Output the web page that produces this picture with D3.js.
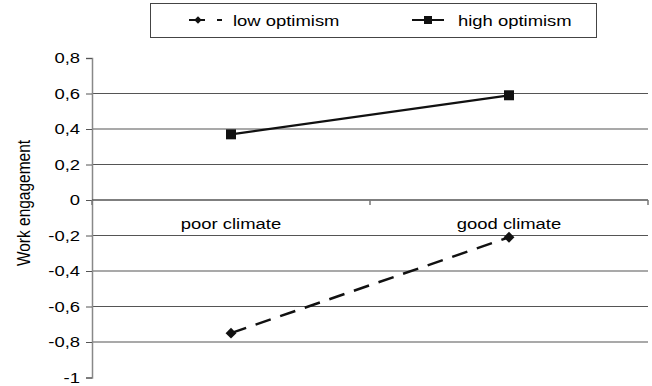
<!DOCTYPE html>
<html>
<head>
<meta charset="utf-8">
<script src="https://cdn.jsdelivr.net/npm/d3@7"></script>
<style>
  body { margin: 0; background: #fff; }
  svg { display: block; font-family: "Liberation Sans", Arial, sans-serif; }
</style>
</head>
<body>
<div id="chart"></div>
<script>
// data
const categories = ["poor climate", "good climate"];
const lowOptimism = [-0.75, -0.21];
const highOptimism = [0.37, 0.59];
const yTicks = [0.8, 0.6, 0.4, 0.2, 0, -0.2, -0.4, -0.6, -0.8, -1];
const seriesNames = ["low optimism", "high optimism"];

const width = 652, height = 386;
const margin = {top: 58, right: 4, bottom: 8.5, left: 92};
const fs = 15.5, sx = 1.19; // reference text is stretched sideways

const svg = d3.select("#chart").append("svg")
  .attr("width", width).attr("height", height);

const x = d3.scaleBand().domain(categories).range([margin.left, width - margin.right]);
const y = d3.scaleLinear().domain([-1, 0.8]).range([height - margin.bottom, margin.top]);
const cx = c => x(c) + x.bandwidth() / 2;

// gridlines (skip top, zero and bottom)
svg.append("g").selectAll("line")
  .data(yTicks.filter(d => d !== 0 && d !== 0.8 && d !== -1))
  .join("line")
    .attr("x1", margin.left).attr("x2", width - margin.right)
    .attr("y1", d => y(d)).attr("y2", d => y(d))
    .attr("stroke", "#555").attr("stroke-width", 1.2);

// y axis
const yAxis = svg.append("g")
  .attr("transform", `translate(${margin.left},0)`)
  .call(d3.axisLeft(y).tickValues(yTicks).tickSize(6).tickFormat(""));
yAxis.select(".domain").attr("stroke", "#888").attr("stroke-width", 1.5);
yAxis.selectAll(".tick line").attr("stroke", "#555");

svg.append("g").selectAll("text").data(yTicks).join("text")
  .attr("transform", d => `translate(80,${y(d)}) scale(${sx},1)`)
  .attr("dy", "0.33em")
  .attr("text-anchor", "end")
  .style("font-size", fs + "px")
  .text(d => String(d).replace(".", ","));

// x axis on zero with ticks at band edges
const x0 = y(0);
svg.append("line")
  .attr("x1", margin.left).attr("x2", width - margin.right)
  .attr("y1", x0).attr("y2", x0)
  .attr("stroke", "#555").attr("stroke-width", 1.5);
const edges = [margin.left, ...categories.map(c => x(c) + x.bandwidth())];
svg.append("g").selectAll("line").data(edges).join("line")
  .attr("x1", d => d).attr("x2", d => d)
  .attr("y1", x0).attr("y2", x0 + 5)
  .attr("stroke", "#777").attr("stroke-width", 1.5);
svg.append("g").selectAll("text").data(categories).join("text")
  .attr("transform", d => `translate(${cx(d)},${x0 + 29}) scale(${sx},1)`)
  .attr("text-anchor", "middle")
  .style("font-size", fs + "px")
  .text(d => d);

// axis title
svg.append("text")
  .attr("transform", `translate(30,${y(0) + 3}) scale(${sx},1) rotate(-90)`)
  .attr("text-anchor", "middle")
  .style("font-size", fs + "px")
  .text("Work engagement");

const line = d3.line().x((d, i) => cx(categories[i])).y(d => y(d));

// high optimism
svg.append("path").datum(highOptimism)
  .attr("d", line).attr("fill", "none")
  .attr("stroke", "#111").attr("stroke-width", 2.3);
svg.append("g").selectAll("rect").data(highOptimism).join("rect")
  .attr("x", (d, i) => cx(categories[i]) - 5)
  .attr("y", d => y(d) - 5)
  .attr("width", 10).attr("height", 10)
  .attr("fill", "#111");

// low optimism
svg.append("path").datum(lowOptimism)
  .attr("d", line).attr("fill", "none")
  .attr("stroke", "#111").attr("stroke-width", 2.5)
  .attr("stroke-dasharray", "16,10");
const diamond = d3.symbol().type(d3.symbolDiamond2 || d3.symbolDiamond).size(75);
svg.append("g").selectAll("path").data(lowOptimism).join("path")
  .attr("transform", (d, i) => `translate(${cx(categories[i])},${y(d)})`)
  .attr("d", diamond).attr("fill", "#111");

// legend
const legend = svg.append("g");
legend.append("rect")
  .attr("x", 150.5).attr("y", 3.5).attr("width", 446).attr("height", 34)
  .attr("fill", "#fff").attr("stroke", "#444").attr("stroke-width", 1);
const ly = 20;
legend.append("line")
  .attr("x1", 189).attr("x2", 222).attr("y1", ly).attr("y2", ly)
  .attr("stroke", "#111").attr("stroke-width", 2)
  .attr("stroke-dasharray", "16,12");
legend.append("path").attr("transform", `translate(198,${ly})`)
  .attr("d", d3.symbol().type(d3.symbolDiamond2 || d3.symbolDiamond).size(35)).attr("fill", "#111");
legend.append("line")
  .attr("x1", 412).attr("x2", 444).attr("y1", ly).attr("y2", ly)
  .attr("stroke", "#111").attr("stroke-width", 2);
legend.append("rect")
  .attr("x", 424).attr("y", ly - 4).attr("width", 8).attr("height", 8)
  .attr("fill", "#111");
legend.selectAll("text.lbl").data(seriesNames).join("text")
  .attr("class", "lbl")
  .attr("transform", (d, i) => `translate(${i === 0 ? 233 : 458},${ly + 6}) scale(${sx},1)`)
  .style("font-size", fs + "px")
  .text(d => d);
</script>
</body>
</html>
